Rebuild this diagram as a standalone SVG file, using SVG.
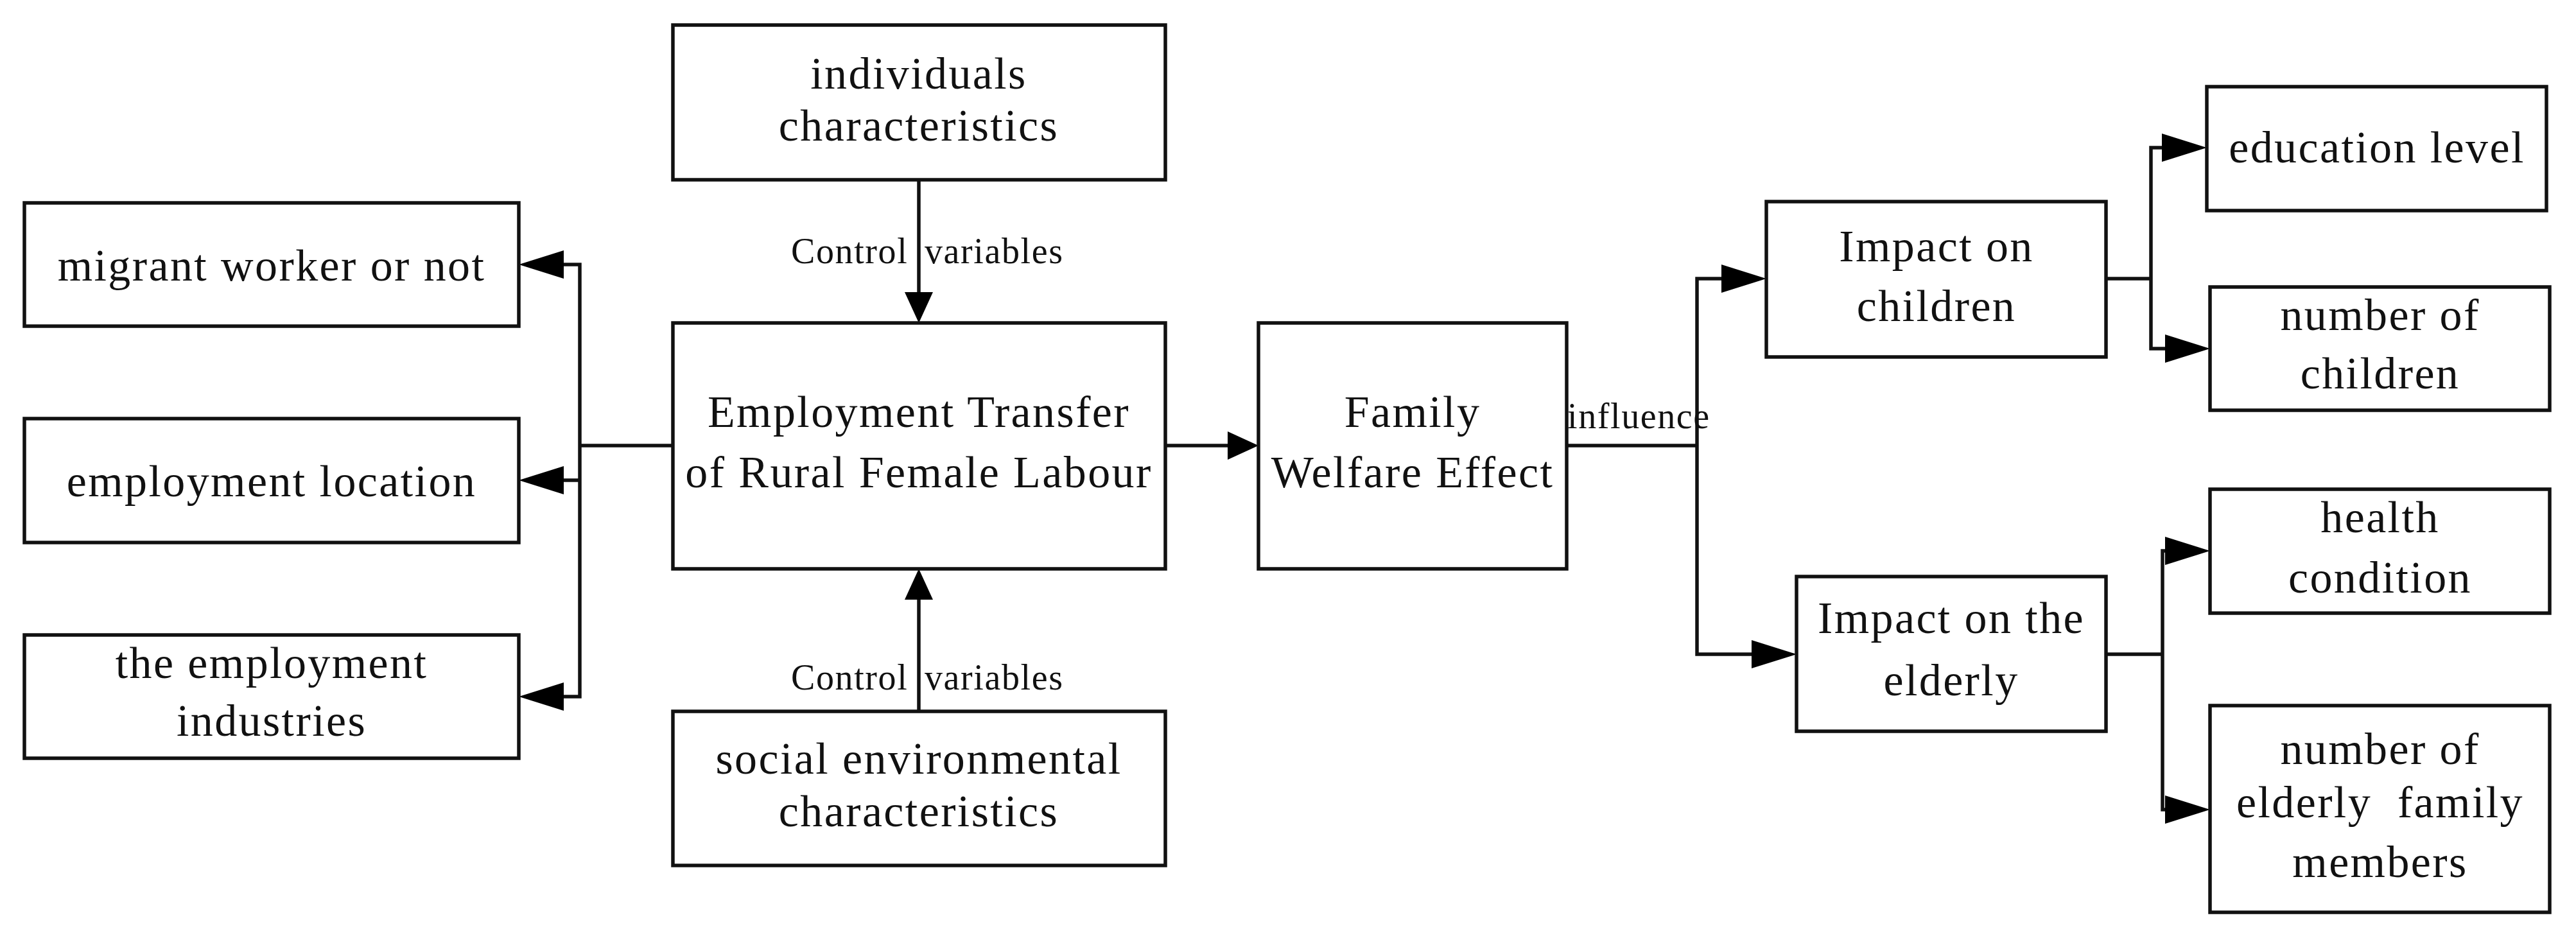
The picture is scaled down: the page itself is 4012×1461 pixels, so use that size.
<svg xmlns="http://www.w3.org/2000/svg" width="4012" height="1461" viewBox="0 0 4012 1461">
<style>
.box{fill:#fff;stroke:#111;stroke-width:5.5}
.t{font-family:"Liberation Serif","Times New Roman",serif;font-size:70px;letter-spacing:2.4px;text-anchor:middle;fill:#111;white-space:pre}
.l{font-family:"Liberation Serif","Times New Roman",serif;font-size:56px;letter-spacing:1.6px;fill:#111}
.c{fill:none;stroke:#111;stroke-width:5.5;stroke-linejoin:miter}
.al{marker-end:url(#ahL)}
.as{marker-end:url(#ahS)}
.al2{marker-start:url(#ahL);marker-end:url(#ahL)}
</style>
<defs>
<marker id="ahL" markerUnits="userSpaceOnUse" markerWidth="70" markerHeight="44" viewBox="0 0 70 44" refX="50" refY="22" orient="auto-start-reverse"><path d="M0,0 L70,22 L0,44 z" fill="#000"/></marker>
<marker id="ahS" markerUnits="userSpaceOnUse" markerWidth="48" markerHeight="44" viewBox="0 0 48 44" refX="28" refY="22" orient="auto-start-reverse"><path d="M0,0 L48,22 L0,44 z" fill="#000"/></marker>
</defs>
<rect width="4012" height="1461" fill="#fff"/>
<g id="connectors">
<path class="c as" d="M1431,280 V483"/>
<path class="c as" d="M1431,1108 V906"/>
<path class="c" d="M1048,694 H903"/>
<path class="c al2" d="M828,412 H903 V1085 H828"/>
<path class="c al" d="M903,748 H828"/>
<path class="c as" d="M1815,694 H1940"/>
<path class="c" d="M2440,694 H2643"/>
<path class="c al2" d="M2731,434 H2643 V1019 H2778"/>
<path class="c" d="M3280,434 H3350"/>
<path class="c al2" d="M3417,230 H3350 V543 H3422"/>
<path class="c" d="M3280,1019 H3368"/>
<path class="c al2" d="M3422,858 H3368 V1261 H3422"/>
<text class="l"><tspan x="1232" y="410">Control</tspan><tspan x="1440" y="410">variables</tspan></text>
<text class="l"><tspan x="1232" y="1074">Control</tspan><tspan x="1440" y="1074">variables</tspan></text>
<text class="l" x="2441" y="667">influence</text>
</g>
<g id="migrant">
<rect class="box" x="38" y="316" width="770" height="192"/>
<text class="t" x="423" y="437">migrant worker or not</text>
</g>
<g id="location">
<rect class="box" x="38" y="652" width="770" height="193"/>
<text class="t" x="423" y="773">employment location</text>
</g>
<g id="industries">
<rect class="box" x="38" y="989" width="770" height="192"/>
<text class="t" x="423" y="1056">the employment</text>
<text class="t" x="423" y="1146">industries</text>
</g>
<g id="individuals">
<rect class="box" x="1048" y="39" width="767" height="241"/>
<text class="t" x="1431" y="138">individuals</text>
<text class="t" x="1431" y="219">characteristics</text>
</g>
<g id="employment">
<rect class="box" x="1048" y="503" width="767" height="383"/>
<text class="t" x="1431" y="665">Employment Transfer</text>
<text class="t" x="1431" y="759">of Rural Female Labour</text>
</g>
<g id="social">
<rect class="box" x="1048" y="1108" width="767" height="240"/>
<text class="t" x="1431" y="1205">social environmental</text>
<text class="t" x="1431" y="1287">characteristics</text>
</g>
<g id="family">
<rect class="box" x="1960" y="503" width="480" height="383"/>
<text class="t" x="2200" y="665">Family</text>
<text class="t" x="2200" y="759">Welfare Effect</text>
</g>
<g id="children">
<rect class="box" x="2751" y="314" width="529" height="242"/>
<text class="t" x="3016" y="407">Impact on</text>
<text class="t" x="3016" y="500">children</text>
</g>
<g id="elderly">
<rect class="box" x="2798" y="898" width="482" height="241"/>
<text class="t" x="3039" y="986">Impact on the</text>
<text class="t" x="3039" y="1083">elderly</text>
</g>
<g id="education">
<rect class="box" x="3437" y="135" width="529" height="193"/>
<text class="t" x="3702" y="253">education level</text>
</g>
<g id="numchildren">
<rect class="box" x="3442" y="447" width="529" height="192"/>
<text class="t" x="3707" y="514">number of</text>
<text class="t" x="3707" y="605">children</text>
</g>
<g id="health">
<rect class="box" x="3442" y="762" width="529" height="193"/>
<text class="t" x="3707" y="829">health</text>
<text class="t" x="3707" y="923">condition</text>
</g>
<g id="numelderly">
<rect class="box" x="3442" y="1099" width="529" height="322"/>
<text class="t" x="3707" y="1190">number of</text>
<text class="t" x="3707" y="1273">elderly  family</text>
<text class="t" x="3707" y="1366">members</text>
</g>
</svg>
